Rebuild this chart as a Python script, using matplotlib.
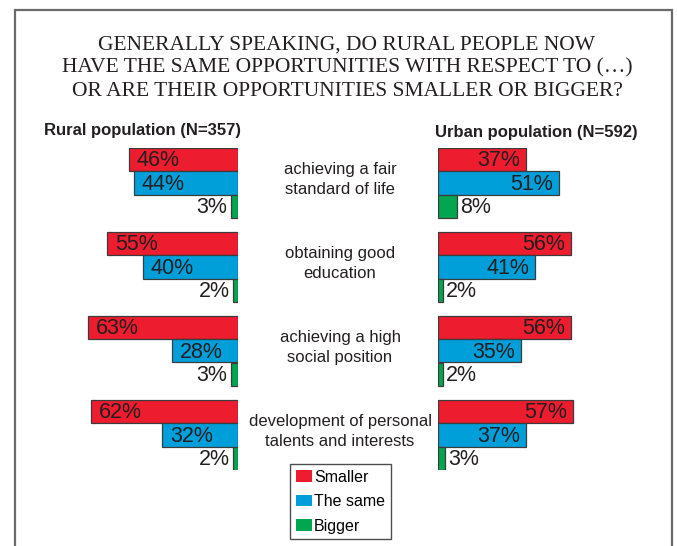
import matplotlib.pyplot as plt
from matplotlib.patches import Rectangle

# survey answers, in percent
questions = ["achieving a fair\nstandard of life",
             "obtaining good\neducation",
             "achieving a high\nsocial position",
             "development of personal\ntalents and interests"]
answers = ["Smaller", "The same", "Bigger"]
rural = {"Smaller": [46, 55, 63, 62],
         "The same": [44, 40, 28, 32],
         "Bigger": [3, 2, 3, 2]}
urban = {"Smaller": [37, 56, 56, 57],
         "The same": [51, 41, 35, 37],
         "Bigger": [8, 2, 2, 3]}
rural_title = "Rural population (N=357)"
urban_title = "Urban population (N=592)"
title = ("GENERALLY SPEAKING, DO RURAL PEOPLE NOW\n"
         "HAVE THE SAME OPPORTUNITIES WITH RESPECT TO (\u2026)\n"
         "OR ARE THEIR OPPORTUNITIES SMALLER OR BIGGER?")

colors = {"Smaller": "#ed1c2e", "The same": "#009fda", "Bigger": "#00a650"}
edge = "#3c3c3c"
txt = "#231f20"
plt.rcParams['font.family'] = ['Liberation Sans', 'DejaVu Sans']

W, H = 677, 546
fig = plt.figure(figsize=(W / 100, H / 100), dpi=100)


def px_axes(x0, y0, x1, y1):
    # axes from pixel box (top-left origin)
    return fig.add_axes([x0 / W, 1 - y1 / H, (x1 - x0) / W, (y1 - y0) / H])


step = 3.6
u = 84 / step
top = 159.5 - 0.5 * u
bot = top + (3 * step + 3) * u

ax_l = px_axes(60, top, 238, bot)
ax_r = px_axes(438, top, 616, bot)

handles = []
for ax, data, side in [(ax_l, rural, "left"), (ax_r, urban, "right")]:
    for j, ans in enumerate(answers):
        ys = [i * step + j for i in range(len(questions))]
        bars = ax.barh(ys, data[ans], height=1.0, color=colors[ans],
                       edgecolor=edge, linewidth=0.9, label=ans)
        if side == "left":
            handles.append(bars)
        for y, v in zip(ys, data[ans]):
            lab = f"{v}%"
            if ans == "Bigger":
                ax.text(v + 1.5, y + 0.05, lab, ha="right" if side == "left" else "left",
                        va="center", fontsize=15.5, color=txt)
            elif side == "left":
                ax.text(v - 3.3, y + 0.05, lab, ha="left", va="center",
                        fontsize=15.5, color=txt)
            else:
                ax.text(v - 2.5, y + 0.05, lab, ha="right", va="center",
                        fontsize=15.5, color=txt)
    ax.set_ylim(3 * step + 2.5, -0.5)
    ax.set_xlim((75, 0) if side == "left" else (0, 75))
    ax.axis("off")

for i, q in enumerate(questions):
    y_px = 159.5 + i * 84 + 20
    fig.text(340 / W, 1 - y_px / H, q, ha="center", va="center",
             fontsize=12, color=txt, linespacing=1.38)

fig.text(142 / W, 1 - 130 / H, rural_title, ha="center", va="center",
         fontsize=12, fontweight="bold", color=txt)
fig.text(536 / W, 1 - 132 / H, urban_title, ha="center", va="center",
         fontsize=12, fontweight="bold", color=txt)

fig.text(347 / W, 1 - 68 / H, title, ha="center", va="center",
         fontsize=15.5, family=["Liberation Serif", "DejaVu Serif"],
         color=txt, linespacing=1.3)

leg = fig.legend(handles=handles, labels=answers, loc="upper left",
                 bbox_to_anchor=(290 / W, 1 - 464 / H), fontsize=11.5,
                 frameon=True, fancybox=False, edgecolor="#222222",
                 handlelength=1.0, handleheight=0.75, handletextpad=0.15,
                 labelspacing=0.6, borderpad=0.35, borderaxespad=0)
leg.get_frame().set_linewidth(1.0)
for h in leg.legend_handles:
    h.set_edgecolor("none")

fig.patches.append(Rectangle((15 / W, -0.05), (672 - 15) / W, 1.05 - 10 / H,
                             transform=fig.transFigure, fill=False,
                             edgecolor="#6a6a6a", linewidth=1.6))

fig.savefig("out.png", dpi=100)
